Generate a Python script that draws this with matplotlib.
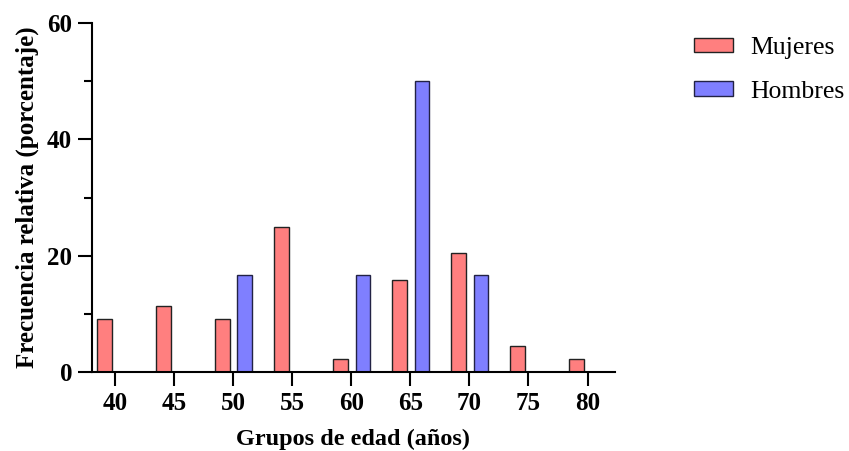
import matplotlib
matplotlib.use("Agg")
import matplotlib.pyplot as plt
import numpy as np

# age groups and relative frequencies (%)
grupos = [40, 45, 50, 55, 60, 65, 70, 75, 80]
mujeres = [9.09, 11.36, 9.09, 25.0, 2.27, 15.91, 20.45, 4.55, 2.27]
hombres = [0, 0, 16.67, 0, 16.67, 50.0, 16.67, 0, 0]

plt.rcParams["font.family"] = ["Liberation Serif", "DejaVu Serif"]

fig = plt.figure(figsize=(8.49, 4.51), dpi=100)
ax = fig.add_axes([0.108, 0.175, 0.616, 0.774])

x = np.array(grupos, dtype=float)
ax.bar(x - 0.92, mujeres, width=1.22, color="#FF7F7F", edgecolor="#222222",
       linewidth=1.0, label="Mujeres")
ax.bar(x + 0.96, hombres, width=1.22, color="#7F7FFF", edgecolor="#222244",
       linewidth=1.0, label="Hombres")

ax.set_xlim(38, 82.3)
ax.set_ylim(0, 60)
ax.set_xticks(grupos)
ax.set_yticks([0, 20, 40, 60])
ax.set_yticks([10, 30, 50], minor=True)

for side in ["top", "right"]:
    ax.spines[side].set_visible(False)
for side in ["left", "bottom"]:
    ax.spines[side].set_linewidth(1.5)

ax.tick_params(axis="both", which="major", length=10, width=1.5,
               labelsize=18, pad=4)
ax.tick_params(axis="y", which="minor", length=6, width=1.5)
for lab in ax.get_xticklabels() + ax.get_yticklabels():
    lab.set_fontweight("bold")

ax.set_xlabel("Grupos de edad (años)", fontsize=17.5, fontweight="bold", labelpad=10)
ax.set_ylabel("Frecuencia relativa (porcentaje)", fontsize=18, fontweight="bold",
              labelpad=6)

fig.legend(loc="upper left", bbox_to_anchor=(0.818, 0.918), frameon=False,
           borderpad=0, borderaxespad=0,
           fontsize=18.5, handlelength=1.5, handleheight=0.5, labelspacing=0.85,
           handletextpad=0.68)

fig.savefig("out.png", dpi=100)
